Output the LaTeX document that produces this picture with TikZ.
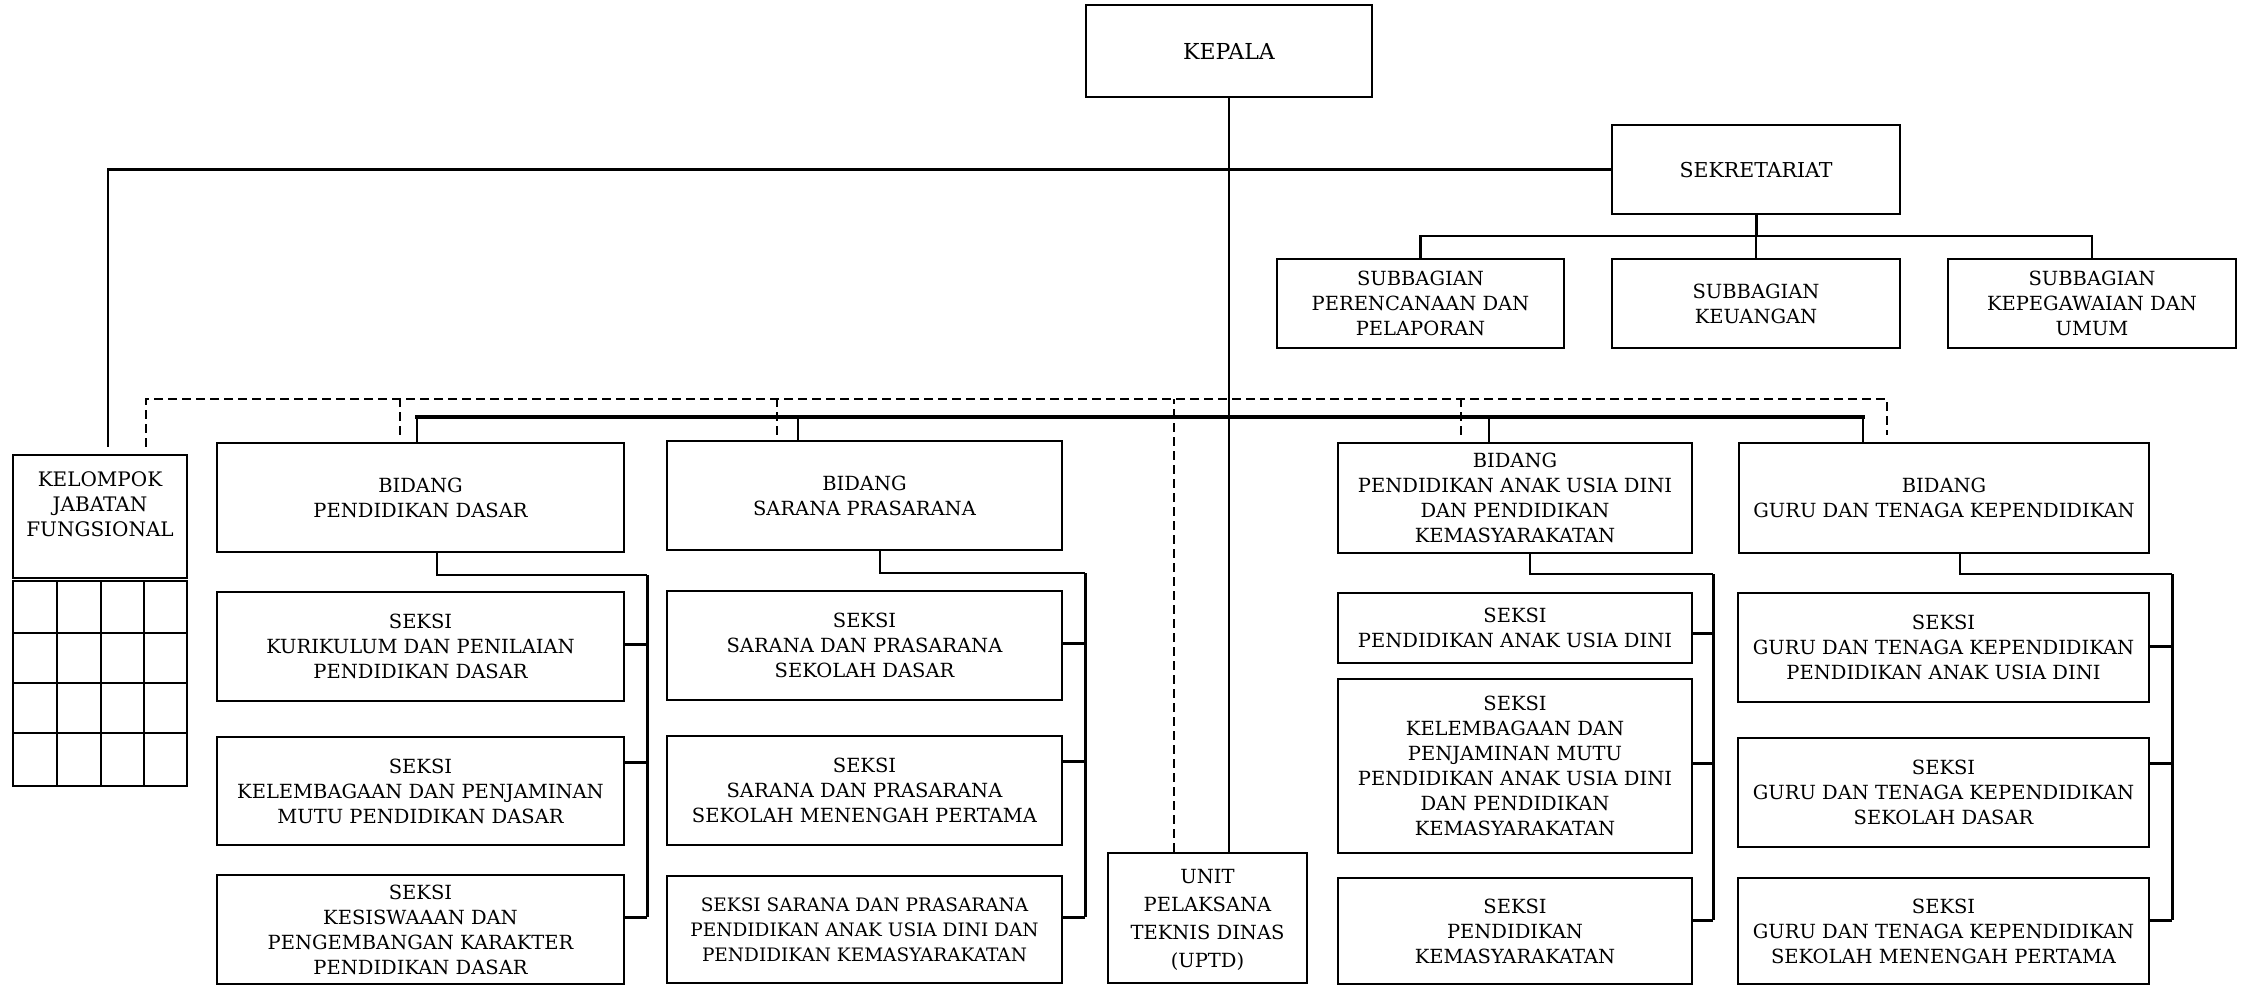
\documentclass[tikz,border=0pt]{standalone}
\usepackage{fontspec}
\setmainfont{DejaVu Serif}
\usetikzlibrary{calc}
\tikzset{
  box/.style={draw, line width=2.2pt, rectangle, align=center, inner sep=1pt,
    text depth=0pt, font=\fontsize{19.5}{25}\selectfont},
  ln/.style={line width=2.2pt},
  thk/.style={line width=3pt},
  bus/.style={line width=4pt, line cap=rect},
  dsh/.style={line width=2pt, dash pattern=on 9pt off 5pt},
}
\begin{document}
\begin{tikzpicture}[x=1pt,y=-1pt]
\fill[white] (0,0) rectangle (2245,986);
\useasboundingbox (0,0) rectangle (2245,986);
% top
\node[box, minimum width=286pt, minimum height=92pt, font=\fontsize{22}{25}\selectfont] (kepala) at (1229,51) {KEPALA};
\node[box, minimum width=288pt, minimum height=89pt, font=\fontsize{20.5}{25}\selectfont] (sekr) at (1756,169.5) {SEKRETARIAT};
\node[box, minimum width=287pt, minimum height=89pt] (sub1) at (1420.5,303.5) {SUBBAGIAN\\PERENCANAAN DAN\\PELAPORAN};
\node[box, minimum width=288pt, minimum height=89pt] (sub2) at (1756,303.5) {SUBBAGIAN\\KEUANGAN};
\node[box, minimum width=288pt, minimum height=89pt] (sub3) at (2092,303.5) {SUBBAGIAN\\KEPEGAWAIAN DAN\\UMUM};
% kelompok
\node[box, minimum width=174pt, minimum height=123pt, font=\fontsize{20}{25}\selectfont] (kjf) at (100,516.5) {KELOMPOK\\JABATAN\\FUNGSIONAL\\~};
% bidang
\node[box, minimum width=407pt, minimum height=109pt] (bpd) at (420.5,497.5) {BIDANG\\PENDIDIKAN DASAR};
\node[box, minimum width=395pt, minimum height=109pt] (bsp) at (864.5,495.5) {BIDANG\\SARANA PRASARANA};
\node[box, minimum width=354pt, minimum height=110pt] (bpaud) at (1515,498) {BIDANG\\PENDIDIKAN ANAK USIA DINI\\DAN PENDIDIKAN\\KEMASYARAKATAN};
\node[box, minimum width=410pt, minimum height=110pt] (bgtk) at (1944,498) {BIDANG\\GURU DAN TENAGA KEPENDIDIKAN};
% seksi col 1
\node[box, minimum width=407pt, minimum height=109pt] (s11) at (420.5,646.5) {SEKSI\\KURIKULUM DAN PENILAIAN\\PENDIDIKAN DASAR};
\node[box, minimum width=407pt, minimum height=108pt] (s12) at (420.5,791) {SEKSI\\KELEMBAGAAN DAN PENJAMINAN\\MUTU PENDIDIKAN DASAR};
\node[box, minimum width=407pt, minimum height=109pt] (s13) at (420.5,929.5) {SEKSI\\KESISWAAAN DAN\\PENGEMBANGAN KARAKTER\\PENDIDIKAN DASAR};
% seksi col 2
\node[box, minimum width=395pt, minimum height=109pt] (s21) at (864.5,645.5) {SEKSI\\SARANA DAN PRASARANA\\SEKOLAH DASAR};
\node[box, minimum width=395pt, minimum height=109pt] (s22) at (864.5,790.5) {SEKSI\\SARANA DAN PRASARANA\\SEKOLAH MENENGAH PERTAMA};
\node[box, minimum width=395pt, minimum height=107pt, font=\fontsize{18.5}{25}\selectfont] (s23) at (864.5,929.5) {SEKSI SARANA DAN PRASARANA\\PENDIDIKAN ANAK USIA DINI DAN\\PENDIDIKAN KEMASYARAKATAN};
% uptd
\node[box, minimum width=199pt, minimum height=130pt, font=\fontsize{19.5}{28}\selectfont] (uptd) at (1207.5,918) {UNIT\\PELAKSANA\\TEKNIS DINAS\\(UPTD)};
% seksi col 3
\node[box, minimum width=354pt, minimum height=70pt] (s31) at (1515,628) {SEKSI\\PENDIDIKAN ANAK USIA DINI};
\node[box, minimum width=354pt, minimum height=174pt] (s32) at (1515,766) {SEKSI\\KELEMBAGAAN DAN\\PENJAMINAN MUTU\\PENDIDIKAN ANAK USIA DINI\\DAN PENDIDIKAN\\KEMASYARAKATAN};
\node[box, minimum width=354pt, minimum height=106pt] (s33) at (1515,931) {SEKSI\\PENDIDIKAN\\KEMASYARAKATAN};
% seksi col 4
\node[box, minimum width=411pt, minimum height=109pt] (s41) at (1943.5,647.5) {SEKSI\\GURU DAN TENAGA KEPENDIDIKAN\\PENDIDIKAN ANAK USIA DINI};
\node[box, minimum width=411pt, minimum height=109pt] (s42) at (1943.5,792.5) {SEKSI\\GURU DAN TENAGA KEPENDIDIKAN\\SEKOLAH DASAR};
\node[box, minimum width=411pt, minimum height=106pt] (s43) at (1943.5,931) {SEKSI\\GURU DAN TENAGA KEPENDIDIKAN\\SEKOLAH MENENGAH PERTAMA};
% grid under kelompok
\draw[ln] (13,581) rectangle (187,786);
\foreach \x in {57,101,144} \draw[ln] (\x,581) -- (\x,786);
\foreach \y in {633,683,733} \draw[ln] (13,\y) -- (187,\y);
% kepala trunk
\draw[ln] (kepala.south) -- (kepala.south |- uptd.north);
% sekretariat
\coordinate (kj) at ([xshift=8pt,yshift=7pt]kjf.north);
\draw[ln] (sekr.west) -| (kj);
\coordinate (sbus) at (1756,236);
\draw[thk] (sekr.south) -- (sbus);
\draw[ln] (sub1.north) |- (sbus) -| (sub3.north);
\draw[ln] (sbus) -- (sub2.north);
% main bus
\coordinate (mbus) at (1229,417);
\coordinate (d1) at ([xshift=-3.5pt]bpd.north);
\coordinate (d2) at ([xshift=-66.5pt]bsp.north);
\coordinate (d3) at ([xshift=-26pt]bpaud.north);
\coordinate (d4) at ([xshift=-81pt]bgtk.north);
\draw[bus] (d1 |- mbus) -- (d4 |- mbus);
\foreach \d in {d1,d2,d3,d4} \draw[ln] (\d) -- (\d |- mbus);
% dashed coordination line
\coordinate (dbus) at (1229,399);
\coordinate (e0) at ([xshift=46pt,yshift=7pt]kjf.north);
\coordinate (e1) at ([xshift=-20.5pt,yshift=7pt]bpd.north);
\coordinate (e2) at ([xshift=-87.5pt,yshift=5pt]bsp.north);
\coordinate (e3) at ([xshift=-33.5pt]uptd.north);
\coordinate (e4) at ([xshift=-54pt,yshift=7pt]bpaud.north);
\coordinate (e5) at ([xshift=-57pt,yshift=7pt]bgtk.north);
\draw[dsh] (e0) |- (dbus) -| (e5);
\foreach \e in {e1,e2,e3,e4} \draw[dsh] (\e) -- (\e |- dbus);
% stub points
\coordinate (t11) at ([yshift=2.5pt]s11.east);
\coordinate (t12) at ([yshift=29pt]s12.east);
\coordinate (t13) at ([yshift=12.5pt]s13.east);
\coordinate (t21) at ([yshift=2.5pt]s21.east);
\coordinate (t22) at ([yshift=29.5pt]s22.east);
\coordinate (t23) at ([yshift=12.5pt]s23.east);
\coordinate (t31) at ([yshift=-5pt]s31.east);
\coordinate (t32) at ([yshift=3pt]s32.east);
\coordinate (t33) at ([yshift=11pt]s33.east);
\coordinate (t41) at ([yshift=1.5pt]s41.east);
\coordinate (t42) at ([yshift=29.5pt]s42.east);
\coordinate (t43) at ([yshift=11pt]s43.east);
\coordinate (b1) at ([xshift=16.5pt]bpd.south);
\coordinate (b2) at ([xshift=15.5pt]bsp.south);
\coordinate (b3) at ([xshift=15pt]bpaud.south);
\coordinate (b4) at ([xshift=16pt]bgtk.south);
\coordinate (c1) at (647,575);
\coordinate (c2) at (1085,573);
\coordinate (c3) at (1713,574);
\coordinate (c4) at (2172,574);
\foreach \i in {1,2,3,4} {
  \draw[ln] (b\i) |- (c\i);
  \draw[thk] (c\i) -- (c\i |- t\i3);
  \foreach \j in {1,2,3} \draw[thk] (t\i\j) -- (t\i\j -| c\i);
}
\end{tikzpicture}
\end{document}
